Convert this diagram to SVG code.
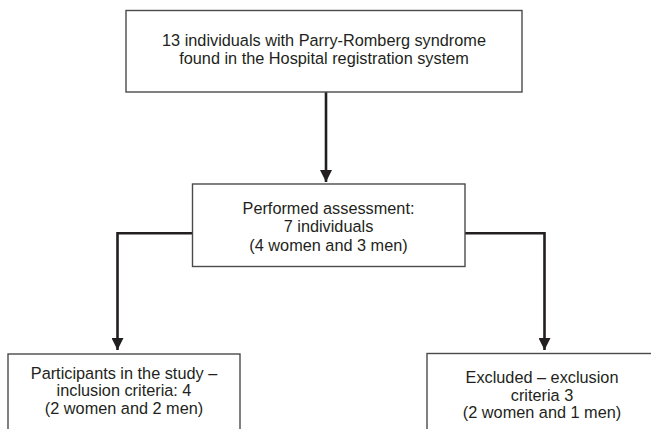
<svg xmlns="http://www.w3.org/2000/svg" width="651" height="429" viewBox="0 0 651 429">
<defs>
<style>
.box{fill:#fff;stroke:#4a4a4a;stroke-width:1.4}
.t{font-family:"Liberation Sans",Arial,sans-serif;font-size:16.3px;fill:#231f20;text-anchor:middle}
.c{fill:none;stroke:#231f20;stroke-width:2.6}
</style>
<marker id="ah" markerUnits="userSpaceOnUse" markerWidth="12" markerHeight="12" refX="11" refY="5.5" orient="auto" viewBox="0 0 11 11">
<path d="M0,0 L11,5.5 L0,11 z" fill="#231f20"/>
</marker>
</defs>
<rect width="651" height="429" fill="#fff"/>
<g id="connectors">
<line class="c" x1="326" y1="92" x2="326" y2="182" marker-end="url(#ah)"/>
<polyline class="c" points="192,233.3 117.5,233.3 117.5,350" marker-end="url(#ah)"/>
<polyline class="c" points="465,233.3 544.5,233.3 544.5,350" marker-end="url(#ah)"/>
</g>
<g id="n1">
<rect class="box" x="126" y="10.5" width="396" height="81.5"/>
<text class="t" x="324" y="45.5">13 individuals with Parry-Romberg syndrome</text>
<text class="t" x="324" y="64">found in the Hospital registration system</text>
</g>
<g id="n2">
<rect class="box" x="192.5" y="184" width="272.5" height="82.5"/>
<text class="t" x="328.5" y="214">Performed assessment:</text>
<text class="t" x="328.5" y="232">7 individuals</text>
<text class="t" x="328.5" y="250.5">(4 women and 3 men)</text>
</g>
<g id="n3">
<rect class="box" x="8" y="354" width="232" height="90"/>
<text class="t" x="124" y="378.5">Participants in the study –</text>
<text class="t" x="124" y="396">inclusion criteria: 4</text>
<text class="t" x="124" y="413.5">(2 women and 2 men)</text>
</g>
<g id="n4">
<rect class="box" x="427" y="353.5" width="240" height="90"/>
<text class="t" x="542" y="382.5">Excluded – exclusion</text>
<text class="t" x="542" y="400.5">criteria 3</text>
<text class="t" x="542" y="418">(2 women and 1 men)</text>
</g>
</svg>
